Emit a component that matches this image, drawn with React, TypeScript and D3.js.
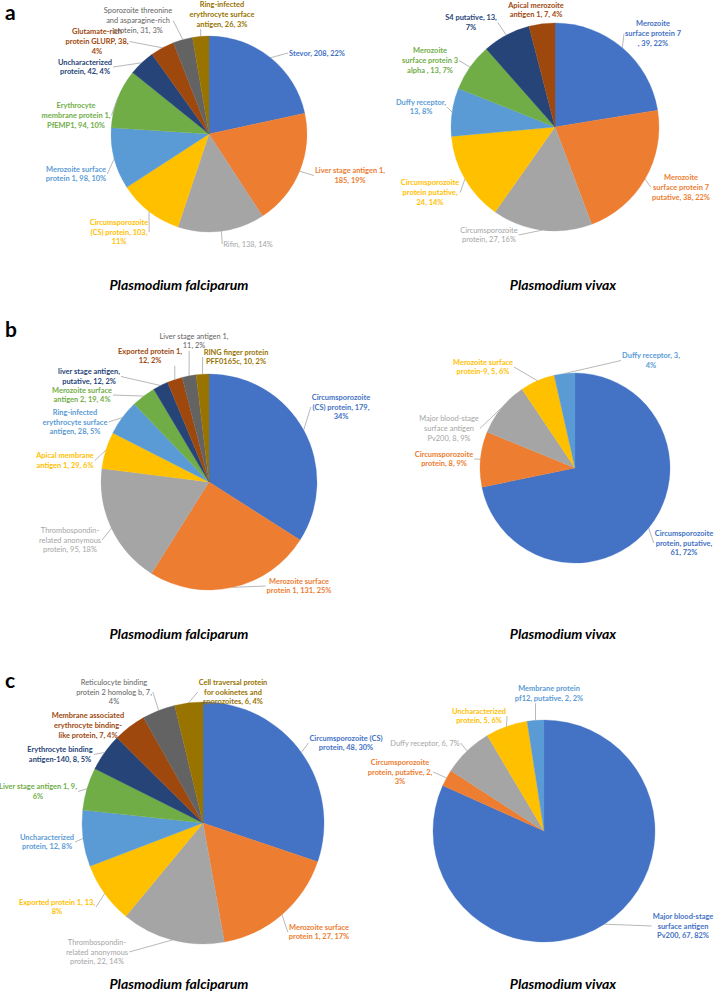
import React from 'react';
import * as d3 from 'd3';

// Excel "Office" palette, in slice order
const sliceColors = ['#4472C4', '#ED7D31', '#A5A5A5', '#FFC000', '#5B9BD5', '#70AD47', '#264478', '#9E480E', '#636363', '#997300'];

// ---------- Panel a ----------
const aFalcValues = [208, 185, 138, 103, 98, 94, 42, 38, 31, 26];
const aFalcLabels = [
  ['Stevor, 208, 22%'],
  ['Liver stage antigen 1,', '185, 19%'],
  ['Rifin, 138, 14%'],
  ['Circumsporozoite', '(CS) protein, 103,', '11%'],
  ['Merozoite surface', 'protein 1, 98, 10%'],
  ['Erythrocyte', 'membrane protein 1,', 'PfEMP1, 94, 10%'],
  ['Uncharacterized', 'protein, 42, 4%'],
  ['Glutamate-rich', 'protein GLURP, 38,', '4%'],
  ['Sporozoite threonine', 'and asparagine-rich', 'protein, 31, 3%'],
  ['Ring-infected', 'erythrocyte surface', 'antigen, 26, 3%'],
];
const aVivValues = [39, 38, 27, 24, 13, 13, 13, 7];
const aVivLabels = [
  ['Merozoite', 'surface protein 7', ', 39, 22%'],
  ['Merozoite', 'surface protein 7', 'putative, 38, 22%'],
  ['Circumsporozoite', 'protein, 27, 16%'],
  ['Circumsporozoite', 'protein putative,', '24, 14%'],
  ['Duffy receptor,', '13, 8%'],
  ['Merozoite', 'surface protein 3', 'alpha , 13, 7%'],
  ['S4 putative, 13,', '7%'],
  ['Apical merozoite', 'antigen 1, 7, 4%'],
];

// ---------- Panel b ----------
const bFalcValues = [179, 131, 95, 29, 28, 19, 12, 12, 11, 10];
const bFalcLabels = [
  ['Circumsporozoite', '(CS) protein, 179,', '34%'],
  ['Merozoite surface', 'protein 1, 131, 25%'],
  ['Thrombospondin-', 'related anonymous', 'protein, 95, 18%'],
  ['Apical membrane', 'antigen 1, 29, 6%'],
  ['Ring-infected', 'erythrocyte surface', 'antigen, 28, 5%'],
  ['Merozoite surface', 'antigen 2, 19, 4%'],
  ['liver stage antigen,', 'putative, 12, 2%'],
  ['Exported protein 1,', '12, 2%'],
  ['Liver stage antigen 1,', '11, 2%'],
  ['RING finger protein', 'PFF0165c, 10, 2%'],
];
const bVivValues = [61, 8, 8, 5, 3];
const bVivLabels = [
  ['Circumsporozoite', 'protein, putative,', '61, 72%'],
  ['Circumsporozoite', 'protein, 8, 9%'],
  ['Major blood-stage', 'surface antigen', 'Pv200, 8, 9%'],
  ['Merozoite surface', 'protein-9, 5, 6%'],
  ['Duffy receptor, 3,', '4%'],
];

// ---------- Panel c ----------
const cFalcValues = [48, 27, 22, 13, 12, 9, 8, 7, 7, 6];
const cFalcLabels = [
  ['Circumsporozoite (CS)', 'protein, 48, 30%'],
  ['Merozoite surface', 'protein 1, 27, 17%'],
  ['Thrombospondin-', 'related anonymous', 'protein, 22, 14%'],
  ['Exported protein 1, 13,', '8%'],
  ['Uncharacterized', 'protein, 12, 8%'],
  ['Liver stage antigen 1, 9,', '6%'],
  ['Erythrocyte binding', 'antigen-140, 8, 5%'],
  ['Membrane associated', 'erythrocyte binding-', 'like protein, 7, 4%'],
  ['Reticulocyte binding', 'protein 2 homolog b, 7,', '4%'],
  ['Cell traversal protein', 'for ookinetes and', 'sporozoites, 6, 4%'],
];
const cVivValues = [67, 2, 6, 5, 2];
const cVivLabels = [
  ['Major blood-stage', 'surface antigen', 'Pv200, 67, 82%'],
  ['Circumsporozoite', 'protein, putative, 2,', '3%'],
  ['Duffy receptor, 6, 7%'],
  ['Uncharacterized', 'protein, 5, 6%'],
  ['Membrane protein', 'pf12, putative, 2, 2%'],
];

const panelLetters = ['a', 'b', 'c'];
const speciesTitles = ['Plasmodium falciparum', 'Plasmodium vivax'];

// ---------- Layout (positions only) ----------
const pieLayout = [
  { cx: 209, cy: 134, r: 98 },
  { cx: 555, cy: 127, r: 104 },
  { cx: 209, cy: 482, r: 108 },
  { cx: 575, cy: 468, r: 95 },
  { cx: 203, cy: 823, r: 121 },
  { cx: 544, cy: 831, r: 111 },
];
const labelLayout = [
  [[317, 53], [350, 175.5], [248, 244], [119, 232], [76, 174], [76, 115.5], [85, 67], [97, 41.5], [138, 20.5], [222, 14.5]],
  [[653, 33.5], [681, 187.5], [489, 235], [430, 192.5], [421, 107], [430, 60.5], [471, 22.5], [536, 10]],
  [[341, 407], [299, 586], [70, 540], [65, 460.5], [75, 422], [82, 395], [89, 376.5], [150, 356], [194, 341], [236, 357]],
  [[684, 543], [444, 459], [449, 428.5], [483, 367], [651, 360.5]],
  [[346, 743], [319, 932], [97, 952], [57, 907], [47, 842], [38, 791.5], [60, 754.5], [88, 725.5], [114, 692], [233, 692]],
  [[683, 926], [400, 772], [425, 743], [479, 716], [549, 693.5]],
];
const panelRows = [
  { letterY: 20, titleY: 290 },
  { letterY: 337, titleY: 639 },
  { letterY: 688, titleY: 989 },
];
const titleX = [179, 563];

const pieData = [
  { values: aFalcValues, labels: aFalcLabels },
  { values: aVivValues, labels: aVivLabels },
  { values: bFalcValues, labels: bFalcLabels },
  { values: bVivValues, labels: bVivLabels },
  { values: cFalcValues, labels: cFalcLabels },
  { values: cVivValues, labels: cVivLabels },
];

const FONT = 'Lato, "Open Sans", "DejaVu Sans", sans-serif';

const measureCtx: CanvasRenderingContext2D | null =
  typeof document !== 'undefined' ? document.createElement('canvas').getContext('2d') : null;
function measure(text: string, font: string): number {
  if (!measureCtx) return text.length * 0.5;
  measureCtx.font = font;
  return measureCtx.measureText(text).width;
}

function PieChart({ idx, labelSize, lineH }: { idx: number; labelSize: number; lineH: number }) {
  const { values, labels } = pieData[idx];
  const { cx, cy, r } = pieLayout[idx];
  const arcs = d3.pie<number>().sort(null).value((d) => d)(values);
  const arcGen = d3.arc<d3.PieArcDatum<number>>().innerRadius(0).outerRadius(r);

  return (
    <g>
      <g transform={`translate(${cx},${cy})`}>
        {arcs.map((a, i) => (
          <path key={i} d={arcGen(a) || ''} fill={sliceColors[i]} stroke={sliceColors[i]} strokeWidth={0.3} />
        ))}
      </g>
      {arcs.map((a, i) => {
        const lines = labels[i];
        const [lx, ly] = labelLayout[idx][i];
        const color = sliceColors[i];
        const weight = color === '#A5A5A5' || color === '#636363' ? 'normal' : 'bold';
        const font = `${weight} ${labelSize}px ${FONT}`;
        const w = Math.max(...lines.map((s) => measure(s, font)));
        const h = lines.length * lineH;
        const left = lx - w / 2, right = lx + w / 2, top = ly - h / 2, bottom = ly + h / 2;
        const mid = (a.startAngle + a.endAngle) / 2;
        const px = cx + r * Math.sin(mid);
        const py = cy - r * Math.cos(mid);
        let qx: number, qy: number;
        if (px < left) { qx = left - 1; qy = ly; }
        else if (px > right) { qx = right + 1; qy = ly; }
        else if (py > bottom) { qx = px; qy = bottom; }
        else { qx = px; qy = top; }
        const dist = Math.hypot(qx - px, qy - py);
        return (
          <g key={`l${i}`}>
            {dist > 5 && (
              <line x1={px} y1={py} x2={qx} y2={qy} stroke="#A6A6A6" strokeWidth={0.8} />
            )}
            <text
              textAnchor="middle"
              fontFamily={FONT}
              fontWeight={weight}
              fontSize={labelSize}
              fill={color}
            >
              {lines.map((s, k) => (
                <tspan key={k} x={lx} y={ly + (k - (lines.length - 1) / 2) * lineH + labelSize * 0.35}>
                  {s}
                </tspan>
              ))}
            </text>
          </g>
        );
      })}
    </g>
  );
}

export default function App() {
  // calibrate sizes so the widths follow the reference (Calibri-like, narrow)
  const unitLabel = measure('Stevor, 208, 22%', `bold 10px ${FONT}`) / 10;
  const labelSize = Math.min(8.5, 56 / (unitLabel || 7));
  const unitTitle = measure(speciesTitles[0], `italic bold 10px ${FONT}`) / 10;
  const titleSize = Math.min(16, 139 / (unitTitle || 12));
  const lineH = 9.7;

  return (
    <svg
      width={716}
      height={992}
      viewBox="0 0 716 992"
      style={{ position: 'absolute', left: 0, top: 0, background: '#ffffff' }}
    >
      <rect x={0} y={0} width={716} height={992} fill="#ffffff" />
      {pieData.map((_, i) => (
        <PieChart key={i} idx={i} labelSize={labelSize} lineH={lineH} />
      ))}
      {panelRows.map((row, ri) => (
        <g key={ri}>
          <text x={5} y={row.letterY} fontFamily={FONT} fontWeight="bold" fontSize={21} fill="#000">
            {panelLetters[ri]}
          </text>
          {speciesTitles.map((t, ti) => (
            <text
              key={ti}
              x={titleX[ti]}
              y={row.titleY}
              textAnchor="middle"
              fontFamily={FONT}
              fontWeight="bold"
              fontStyle="italic"
              fontSize={titleSize}
              fill="#000"
            >
              {t}
            </text>
          ))}
        </g>
      ))}
    </svg>
  );
}
